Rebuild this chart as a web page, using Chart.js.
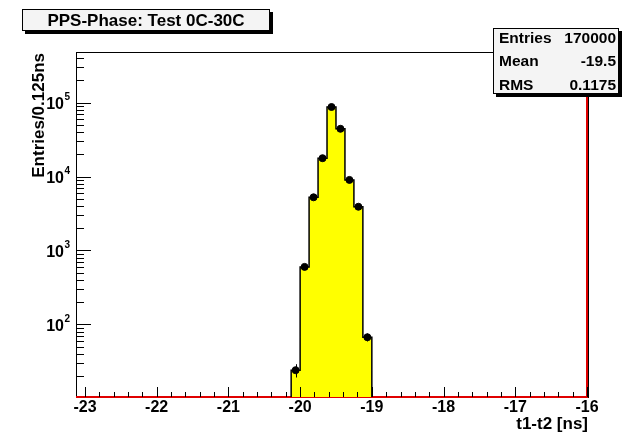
<!DOCTYPE html>
<html>
<head>
<meta charset="utf-8">
<script src="https://cdn.jsdelivr.net/npm/chart.js@4"></script>
<style>
  html, body { margin: 0; padding: 0; background: #fff; }
</style>
</head>
<body>
<canvas id="histChart" width="625" height="433"></canvas>
<script>
// bins of 0.125 ns, low edges and contents
const binLow = [-20.125, -20, -19.875, -19.75, -19.625, -19.5, -19.375, -19.25, -19.125];
const binWidth = 0.125;
const counts = [24, 600, 5250, 17750, 87500, 44400, 9020, 3910, 67];
const xTicks = [-23, -22, -21, -20, -19, -18, -17, -16];
const yTicks = [100, 1000, 10000, 100000];
const xRange = [-23.125, -16];
const yRange = [10.4, 486000];
const statNames = ['Entries', 'Mean', 'RMS'];
const statValues = ['170000', '-19.5', '0.1175'];

const FONT = "'Liberation Sans', Arial, Helvetica, sans-serif";

// step outline of the histogram, closed down to the axis
const outline = [{x: binLow[0], y: yRange[0]}];
binLow.forEach((x, i) => outline.push({x: x, y: counts[i]}));
const lastEdge = binLow.at(-1) + binWidth;
outline.push({x: lastEdge, y: counts.at(-1)}, {x: lastEdge, y: yRange[0]});

const markers = binLow.map((x, i) => ({x: x + binWidth / 2, y: counts[i]}));

const redLine = [
  {x: xRange[0], y: yRange[0]},
  {x: xRange[1], y: yRange[0]},
  {x: xRange[1], y: yRange[1]}
];

const rootStyle = {
  id: 'rootStyle',
  beforeDatasetsDraw(chart) {
    const ctx = chart.ctx;
    const area = chart.chartArea;
    ctx.save();
    ctx.strokeStyle = '#000';
    ctx.lineWidth = 1;
    ctx.strokeRect(area.left + 0.5, area.top + 0.5, area.right - area.left + 1, area.bottom - area.top);
    ctx.restore();
  },
  afterDatasetsDraw(chart) {
    const ctx = chart.ctx;
    const area = chart.chartArea;
    const xs = chart.scales.x;
    const ys = chart.scales.y;
    ctx.save();

    // error bars
    ctx.strokeStyle = '#000';
    ctx.lineWidth = 1;
    markers.forEach(p => {
      const err = Math.sqrt(p.y);
      const px = Math.round(xs.getPixelForValue(p.x)) + 0.5;
      ctx.beginPath();
      ctx.moveTo(px, ys.getPixelForValue(Math.max(p.y - err, yRange[0])));
      ctx.lineTo(px, ys.getPixelForValue(p.y + err));
      ctx.stroke();
    });

    // x ticks (inside)
    ctx.beginPath();
    for (let k = xTicks[0]; k <= xTicks.at(-1); k++) {
      const px = Math.round(xs.getPixelForValue(k)) + 0.5;
      ctx.moveTo(px, area.bottom);
      ctx.lineTo(px, area.bottom - 10);
      if (k < xTicks.at(-1)) {
        for (let j = 1; j < 5; j++) {
          const mx = Math.round(xs.getPixelForValue(k + j * 0.2)) + 0.5;
          ctx.moveTo(mx, area.bottom);
          ctx.lineTo(mx, area.bottom - 5);
        }
      }
    }
    // y ticks (inside)
    for (let d = 1; d <= 5; d++) {
      for (let m = 1; m <= 9; m++) {
        const v = m * Math.pow(10, d);
        if (v < yRange[0] || v > yRange[1]) continue;
        const py = Math.round(ys.getPixelForValue(v)) + 0.5;
        ctx.moveTo(area.left, py);
        ctx.lineTo(area.left + (m === 1 ? 15 : 8), py);
      }
    }
    ctx.stroke();

    // y tick labels 10^n
    ctx.fillStyle = '#000';
    yTicks.forEach(v => {
      const py = ys.getPixelForValue(v);
      const exp = String(Math.round(Math.log10(v)));
      ctx.font = 'bold 10px ' + FONT;
      ctx.textAlign = 'right';
      ctx.textBaseline = 'middle';
      const ew = ctx.measureText(exp).width;
      ctx.fillText(exp, 70, py - 5);
      ctx.font = 'bold 16px ' + FONT;
      ctx.fillText('10', 70 - ew - 0.5, py + 2);
    });

    // axis titles
    ctx.font = 'bold 17px ' + FONT;
    ctx.textAlign = 'right';
    ctx.textBaseline = 'alphabetic';
    ctx.fillText('t1-t2 [ns]', area.right + 1, 429);
    ctx.save();
    ctx.translate(43.5, area.top + 1);
    ctx.rotate(-Math.PI / 2);
    ctx.fillText('Entries/0.125ns', 0, 0);
    ctx.restore();

    // title box
    ctx.fillStyle = '#000';
    ctx.fillRect(25, 12, 248, 22);
    ctx.fillStyle = '#f4f4f4';
    ctx.fillRect(22, 9, 248, 22);
    ctx.strokeRect(22.5, 9.5, 247, 21);
    ctx.fillStyle = '#000';
    ctx.font = 'bold 17px ' + FONT;
    ctx.textAlign = 'center';
    ctx.textBaseline = 'middle';
    ctx.fillText('PPS-Phase: Test 0C-30C', 146, 21);

    // stats box
    ctx.fillRect(496, 31, 126, 66);
    ctx.fillStyle = '#f4f4f4';
    ctx.fillRect(493, 28, 126, 66);
    ctx.strokeRect(493.5, 28.5, 125, 65);
    ctx.fillStyle = '#000';
    ctx.font = 'bold 15.5px ' + FONT;
    statNames.forEach((name, i) => {
      const ty = 39 + i * 23.2;
      ctx.textAlign = 'left';
      ctx.fillText(name, 499, ty);
      ctx.textAlign = 'right';
      ctx.fillText(statValues[i], 616, ty);
    });

    ctx.restore();
  }
};

const ctx = document.getElementById('histChart').getContext('2d');
new Chart(ctx, {
  type: 'line',
  data: {
    datasets: [
      {
        label: 'points',
        type: 'scatter',
        data: markers,
        backgroundColor: '#000',
        borderColor: '#000',
        pointRadius: 3.5,
        pointHoverRadius: 3.5,
        order: 0
      },
      {
        label: 'hist',
        data: outline,
        stepped: true,
        fill: 'start',
        backgroundColor: '#ffff00',
        borderColor: '#000',
        borderWidth: 1.5,
        pointRadius: 0,
        order: 1
      },
      {
        label: 'red',
        data: redLine,
        borderColor: '#e00000',
        borderWidth: 2,
        pointRadius: 0,
        fill: false,
        clip: false,
        order: 2
      }
    ]
  },
  options: {
    responsive: false,
    animation: false,
    layout: {
      padding: {top: 52, right: 38, left: 0, bottom: 0}
    },
    plugins: {
      legend: {display: false},
      title: {display: false},
      tooltip: {enabled: false}
    },
    scales: {
      x: {
        type: 'linear',
        min: xRange[0],
        max: xRange[1],
        afterBuildTicks: s => { s.ticks = xTicks.map(v => ({value: v})); },
        afterFit: s => { s.height = 36; },
        grid: {display: false, drawTicks: false},
        border: {display: false},
        ticks: {
          color: '#000',
          padding: 1,
          maxRotation: 0,
          font: {family: FONT, size: 16, weight: 'bold'}
        }
      },
      y: {
        type: 'logarithmic',
        min: yRange[0],
        max: yRange[1],
        afterFit: s => { s.width = 76; },
        grid: {display: false, drawTicks: false},
        border: {display: false},
        ticks: {display: false}
      }
    }
  },
  plugins: [rootStyle]
});
</script>
</body>
</html>
